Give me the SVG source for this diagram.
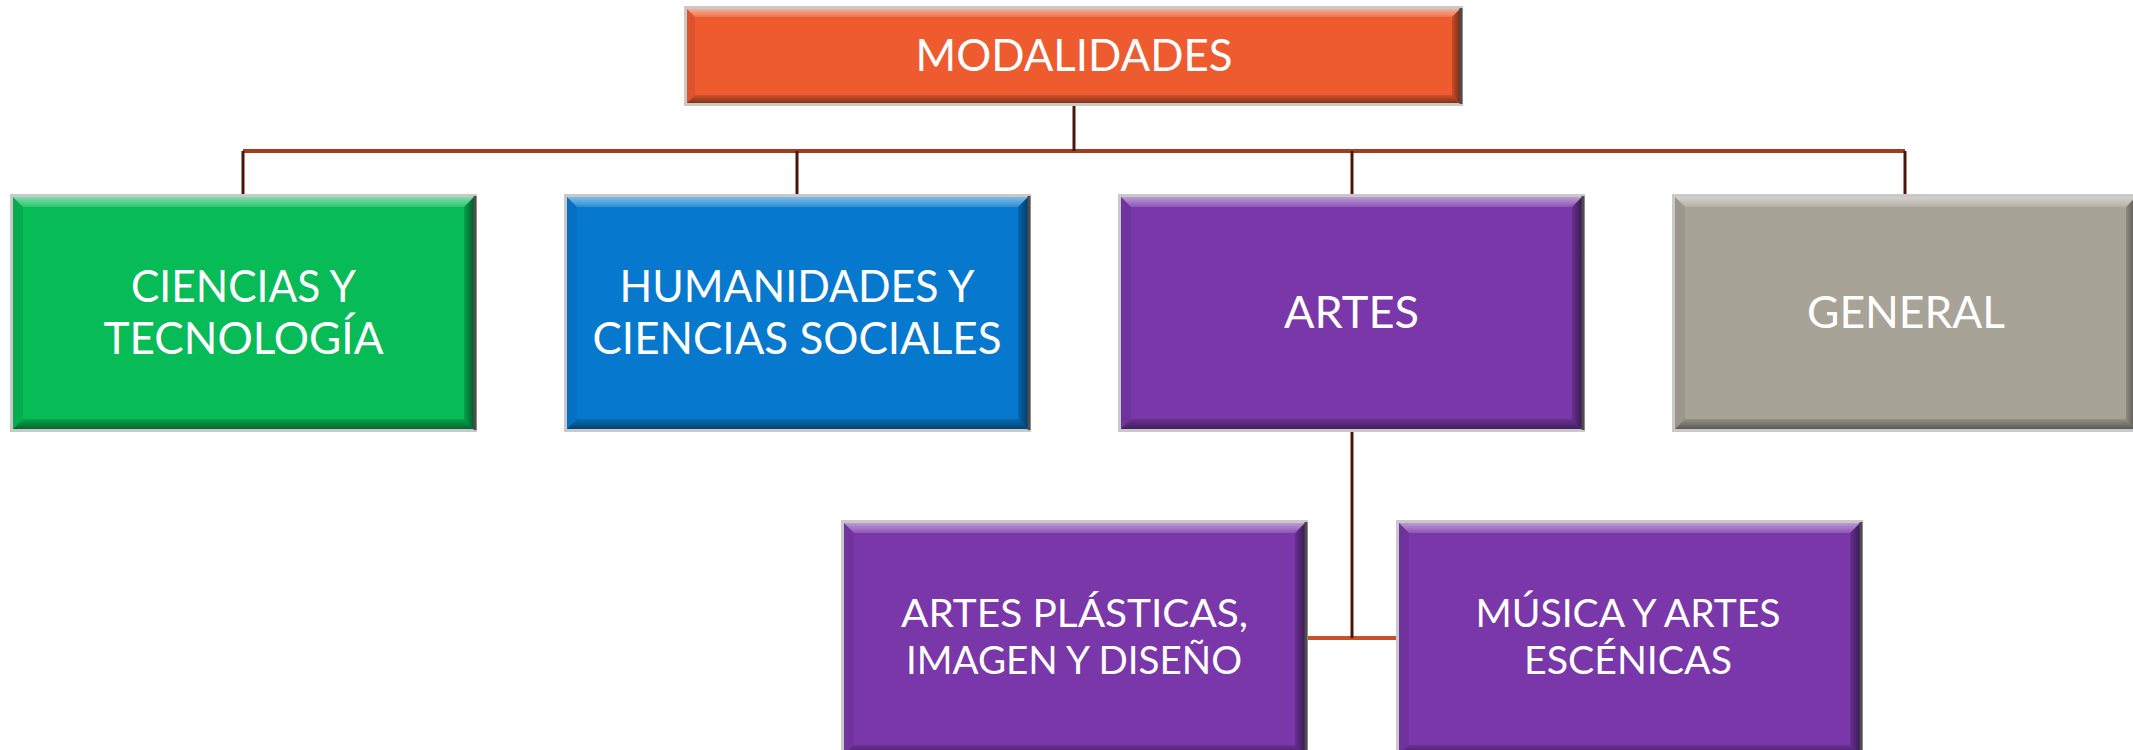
<svg xmlns="http://www.w3.org/2000/svg" xmlns:xlink="http://www.w3.org/1999/xlink" width="2133" height="750" viewBox="0 0 2133 750">
<style>
.t{font-family:Lato,"Liberation Sans",sans-serif;font-weight:400;fill:#ffffff;text-anchor:middle;}
.big{font-size:45px;}
.small{font-size:39px;}
.frame{fill:none;stroke:#c9c9c9;stroke-width:3;}
.redge{stroke:#4d4d4d;stroke-width:3;}
.hline{stroke:#a23c1c;stroke-width:4;fill:none;}
.vline{stroke:#4a1608;stroke-width:3;fill:none;}
.hline2{stroke:#c4522a;stroke-width:4;fill:none;}
</style>
<defs>
<linearGradient id="gTop" x1="0" y1="0" x2="0" y2="1">
<stop offset="0" stop-color="#fff" stop-opacity="0.5"/>
<stop offset="1" stop-color="#fff" stop-opacity="0.15"/>
</linearGradient>
<linearGradient id="gBot" x1="0" y1="0" x2="0" y2="1">
<stop offset="0" stop-color="#000" stop-opacity="0.12"/>
<stop offset="1" stop-color="#000" stop-opacity="0.45"/>
</linearGradient>
<linearGradient id="gRight" x1="0" y1="0" x2="1" y2="0">
<stop offset="0" stop-color="#000" stop-opacity="0.15"/>
<stop offset="1" stop-color="#000" stop-opacity="0.5"/>
</linearGradient>
<g id="bev">
<polygon points="0,0 461,0 451,10 10,10" fill="url(#gTop)"/>
<polygon points="0,232 461,232 451,222 10,222" fill="url(#gBot)"/>
<polygon points="461,0 461,232 451,222 451,10" fill="url(#gRight)"/>
<polygon points="0,0 10,10 10,222 0,232" fill="#000" fill-opacity="0.07"/>
<rect x="-1.5" y="-1.5" width="464" height="235" class="frame"/>
<line x1="462" y1="-1" x2="462" y2="233" class="redge"/>
</g>
</defs>
<g id="connectors">
<line x1="243" y1="151" x2="1905" y2="151" class="hline"/>
<line x1="1074" y1="104" x2="1074" y2="151" class="vline"/>
<line x1="243" y1="151" x2="243" y2="197" class="vline"/>
<line x1="797" y1="151" x2="797" y2="197" class="vline"/>
<line x1="1352" y1="151" x2="1352" y2="197" class="vline"/>
<line x1="1905" y1="151" x2="1905" y2="197" class="vline"/>
<line x1="1304" y1="638" x2="1399" y2="638" class="hline2"/>
<line x1="1352" y1="431" x2="1352" y2="638" class="vline"/>
</g>
<g id="modalidades">
<rect x="687" y="9" width="773" height="94" fill="#ed5b2f"/>
<polygon points="687,9 1460,9 1452,17 695,17" fill="url(#gTop)"/>
<polygon points="687,103 1460,103 1452,95 695,95" fill="url(#gBot)"/>
<polygon points="1460,9 1460,103 1452,95 1452,17" fill="url(#gRight)"/>
<polygon points="687,9 695,17 695,95 687,103" fill="#000" fill-opacity="0.07"/>
<rect x="685.5" y="7.5" width="776" height="97" class="frame"/>
<line x1="1461" y1="8" x2="1461" y2="104" class="redge"/>
<text x="1074" y="71" class="t big" textLength="317" lengthAdjust="spacingAndGlyphs">MODALIDADES</text>
</g>
<g id="ciencias">
<rect x="13" y="197" width="461" height="232" fill="#07bb57"/>
<use xlink:href="#bev" x="13" y="197"/>
<text x="243.5" y="302" class="t big" textLength="225" lengthAdjust="spacingAndGlyphs">CIENCIAS Y</text>
<text x="243.5" y="354" class="t big" textLength="280" lengthAdjust="spacingAndGlyphs">TECNOLOGÍA</text>
</g>
<g id="humanidades">
<rect x="567" y="197" width="461" height="232" fill="#0679ce"/>
<use xlink:href="#bev" x="567" y="197"/>
<text x="797" y="302" class="t big" textLength="355" lengthAdjust="spacingAndGlyphs">HUMANIDADES Y</text>
<text x="797" y="354" class="t big" textLength="409" lengthAdjust="spacingAndGlyphs">CIENCIAS SOCIALES</text>
</g>
<g id="artes">
<rect x="1121" y="197" width="461" height="232" fill="#7937a9"/>
<use xlink:href="#bev" x="1121" y="197"/>
<text x="1351.5" y="328" class="t big" textLength="135" lengthAdjust="spacingAndGlyphs">ARTES</text>
</g>
<g id="general">
<rect x="1675" y="197" width="461" height="232" fill="#a7a397"/>
<use xlink:href="#bev" x="1675" y="197"/>
<text x="1906" y="328" class="t big" textLength="198" lengthAdjust="spacingAndGlyphs">GENERAL</text>
</g>
<g id="plasticas">
<rect x="844" y="523" width="461" height="232" fill="#7937a9"/>
<use xlink:href="#bev" x="844" y="523"/>
<text x="1074.5" y="627" class="t small" textLength="347" lengthAdjust="spacingAndGlyphs">ARTES PLÁSTICAS,</text>
<text x="1074" y="674" class="t small" textLength="336" lengthAdjust="spacingAndGlyphs">IMAGEN Y DISEÑO</text>
</g>
<g id="musica">
<rect x="1399" y="523" width="461" height="232" fill="#7937a9"/>
<use xlink:href="#bev" x="1399" y="523"/>
<text x="1628" y="627" class="t small" textLength="305" lengthAdjust="spacingAndGlyphs">MÚSICA Y ARTES</text>
<text x="1628" y="674" class="t small" textLength="208" lengthAdjust="spacingAndGlyphs">ESCÉNICAS</text>
</g>
</svg>
